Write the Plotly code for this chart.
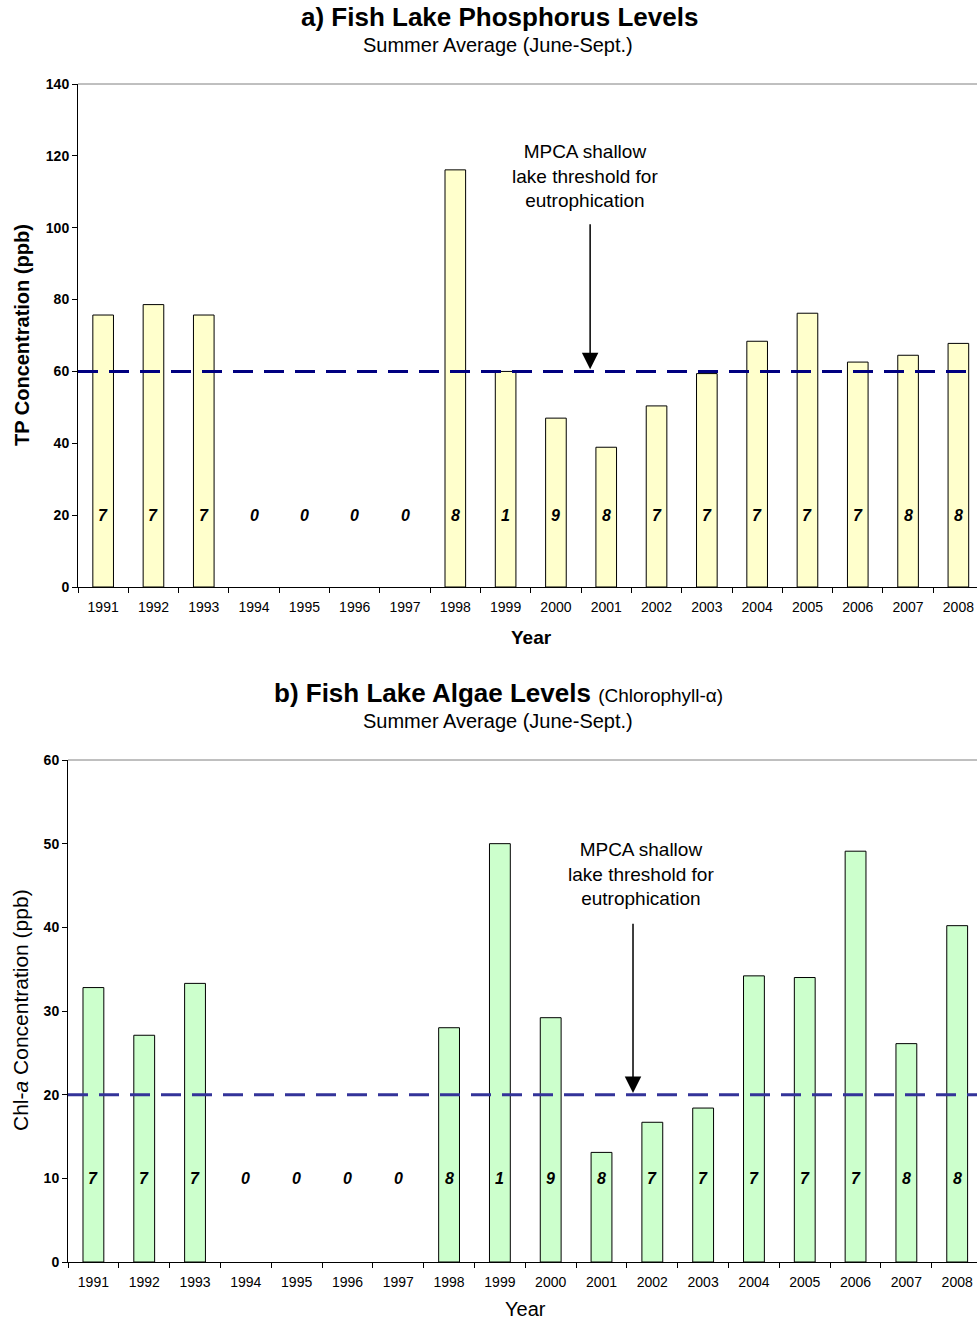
import plotly.graph_objects as go

# Fish Lake summer (June-Sept.) averages
years = [str(y) for y in range(1991, 2009)]
tp_ppb = [75.7, 78.6, 75.7, None, None, None, None, 116.1, 60.0, 47.0,
          38.9, 50.4, 59.4, 68.4, 76.2, 62.6, 64.5, 67.8]
chla_ppb = [32.8, 27.1, 33.3, None, None, None, None, 28.0, 50.0, 29.2,
            13.1, 16.7, 18.4, 34.2, 34.0, 49.1, 26.1, 40.2]
n_samples = [7, 7, 7, 0, 0, 0, 0, 8, 1, 9, 8, 7, 7, 7, 7, 7, 8, 8]

tp_threshold = 60
chla_threshold = 20

W, H = 977, 1322
FONT = "Arial, 'Liberation Sans', sans-serif"


def py(px):
    """Convert a pixel row (from top) to paper y."""
    return 1 - px / H


def px_x(px):
    return px / W


fig = go.Figure()

fig.add_trace(go.Bar(
    x=years, y=tp_ppb, width=0.41,
    marker=dict(color="#FFFFCC", line=dict(color="black", width=1)),
    xaxis="x", yaxis="y", showlegend=False, hoverinfo="x+y",
))
fig.add_trace(go.Bar(
    x=years, y=chla_ppb, width=0.41,
    marker=dict(color="#CCFFCC", line=dict(color="black", width=1)),
    xaxis="x2", yaxis="y2", showlegend=False, hoverinfo="x+y",
))

xcommon = dict(
    type="category", showline=True, linecolor="black", linewidth=1,
    ticks="outside", tickson="boundaries", ticklen=5, tickcolor="black",
    tickfont=dict(family=FONT, size=14, color="black"),
    ticklabelstandoff=7,
    showgrid=False, zeroline=False, fixedrange=True, automargin=False,
)
ycommon = dict(
    showline=True, linecolor="black", linewidth=1,
    ticks="outside", ticklen=5, tickcolor="black",
    tickfont=dict(family=FONT, size=14, color="black", weight="bold"),
    showgrid=False, zeroline=False, fixedrange=True, automargin=False,
)

fig.update_layout(
    width=W, height=H, autosize=False,
    margin=dict(l=0, r=0, t=0, b=0, pad=0, autoexpand=False),
    paper_bgcolor="white", plot_bgcolor="white",
    font=dict(family=FONT, color="black"),
    xaxis=dict(xcommon, domain=[px_x(78), 1], range=[-0.5, 17.37], anchor="y"),
    yaxis=dict(ycommon, domain=[py(587), py(84)], range=[0, 140], dtick=20, anchor="x"),
    xaxis2=dict(xcommon, domain=[px_x(68), 1], range=[-0.5, 17.39], anchor="y2"),
    yaxis2=dict(ycommon, domain=[py(1262), py(760)], range=[0, 60], dtick=10, anchor="x2"),
)

shapes = []
# grey top border of each plot area
shapes.append(dict(type="line", xref="x domain", yref="y domain", x0=0, x1=1, y0=1, y1=1,
                   line=dict(color="#808080", width=1)))
shapes.append(dict(type="line", xref="x2 domain", yref="y2 domain", x0=0, x1=1, y0=1, y1=1,
                   line=dict(color="#808080", width=1)))
# eutrophication thresholds
shapes.append(dict(type="line", xref="x domain", yref="y", x0=0, x1=1,
                   y0=tp_threshold, y1=tp_threshold,
                   line=dict(color="#000080", width=3, dash="20px,11px")))
shapes.append(dict(type="line", xref="x2 domain", yref="y2", x0=0, x1=1,
                   y0=chla_threshold, y1=chla_threshold,
                   line=dict(color="#333399", width=3, dash="20px,11px")))
fig.update_layout(shapes=shapes)

ann = []
count_font = dict(family=FONT, size=16, color="black")
# number of samples per year, written inside each column
for i, n in enumerate(n_samples):
    ann.append(dict(x=i, y=20, xref="x", yref="y", text=f"<b><i>{n}</i></b>",
                    showarrow=False, font=count_font))
    ann.append(dict(x=i, y=10, xref="x2", yref="y2", text=f"<b><i>{n}</i></b>",
                    showarrow=False, font=count_font))

thr_text = "MPCA shallow<br>lake threshold for<br>eutrophication"
# top panel threshold note and arrow
ann.append(dict(x=9.58, y=114.4, xref="x", yref="y", text=thr_text, showarrow=False,
                font=dict(family=FONT, size=19, color="black"), align="center"))
ann.append(dict(x=9.68, y=60.6, xref="x", yref="y", ax=9.68, ay=101.4, axref="x", ayref="y",
                text="", showarrow=True, arrowhead=2, arrowsize=2.2, arrowwidth=1.5,
                arrowcolor="black"))
# bottom panel threshold note and arrow
ann.append(dict(x=10.78, y=46.4, xref="x2", yref="y2", text=thr_text, showarrow=False,
                font=dict(family=FONT, size=19, color="black"), align="center"))
ann.append(dict(x=10.62, y=20.2, xref="x2", yref="y2", ax=10.62, ay=40.6, axref="x2", ayref="y2",
                text="", showarrow=True, arrowhead=2, arrowsize=2.2, arrowwidth=1.5,
                arrowcolor="black"))

# titles
ann.append(dict(x=px_x(499), y=py(17), xref="paper", yref="paper",
                text="<b>a) Fish Lake Phosphorus Levels</b>", showarrow=False,
                font=dict(family=FONT, size=26, color="black"), yanchor="middle"))
ann.append(dict(x=px_x(498), y=py(45), xref="paper", yref="paper",
                text="Summer Average (June-Sept.)", showarrow=False,
                font=dict(family=FONT, size=20, color="black"), yanchor="middle"))
ann.append(dict(x=px_x(498.5), y=py(693), xref="paper", yref="paper",
                text="<b>b) Fish Lake Algae Levels</b> <span style='font-size:19px'>(Chlorophyll-α)</span>",
                showarrow=False, font=dict(family=FONT, size=26, color="black"), yanchor="middle"))
ann.append(dict(x=px_x(498), y=py(721), xref="paper", yref="paper",
                text="Summer Average (June-Sept.)", showarrow=False,
                font=dict(family=FONT, size=20, color="black"), yanchor="middle"))

# axis titles
ann.append(dict(x=px_x(22), y=py(335), xref="paper", yref="paper",
                text="<b>TP Concentration (ppb)</b>", textangle=-90, showarrow=False,
                font=dict(family=FONT, size=20, color="black"),
                xanchor="center", yanchor="middle"))
ann.append(dict(x=px_x(20), y=py(1010), xref="paper", yref="paper",
                text="Chl-<i>a</i> Concentration (ppb)", textangle=-90, showarrow=False,
                font=dict(family=FONT, size=21, color="black"),
                xanchor="center", yanchor="middle"))
ann.append(dict(x=px_x(531), y=py(637), xref="paper", yref="paper",
                text="<b>Year</b>", showarrow=False,
                font=dict(family=FONT, size=19, color="black"), yanchor="middle"))
ann.append(dict(x=px_x(525), y=0, xref="paper", yref="paper",
                text="Year", showarrow=False,
                font=dict(family=FONT, size=20, color="black"), yanchor="bottom"))

fig.update_layout(annotations=ann)

fig.write_html("out.html")
